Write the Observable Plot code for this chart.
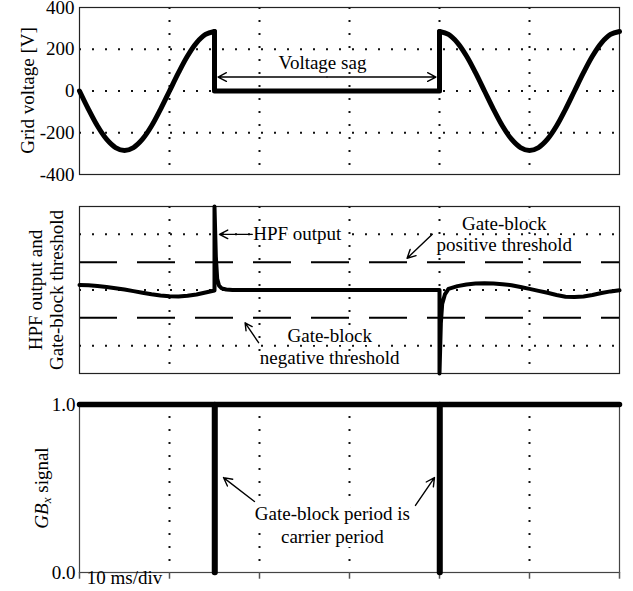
<!DOCTYPE html>
<html><head><meta charset="utf-8">
<script src="https://cdn.jsdelivr.net/npm/d3@7"></script>
<script src="https://cdn.jsdelivr.net/npm/@observablehq/plot@0.6"></script>
<style>
body{margin:0;background:#fff}
#chart svg{display:block;overflow:visible}
</style>
</head><body><div id="chart"></div>
<script>
// ---------- data (time in ms) ----------
const xTicks = [0, 10, 20, 30, 40, 50, 60];
const xGrid = [10, 20, 30, 40, 50];

// Panel 1: grid voltage [V]
const vTicks = [-400, -200, 0, 200, 400];
const vGrid = [-200, 0, 200];
const gridT1 = [0,1,2,3,4,5,6,7,8,9,10,11,12,13,14,15];
const gridV1 = [0,-88,-168,-231,-271,-285,-271,-231,-168,-88,0,88,168,231,271,285];
const sagT = [15, 15, 40, 40];
const sagV = [285, 0, 0, 285];
const gridT2 = [40,41,42,43,44,45,46,47,48,49,50,51,52,53,54,55,56,57,58,59,60];
const gridV2 = [285,271,231,168,88,0,-88,-168,-231,-271,-285,-271,-231,-168,-88,0,88,168,231,271,285];

// Panel 2: HPF output and thresholds (normalized)
const hpfGrid = [-1, 0, 1];
const thresholds = [0.5, -0.5];
const hpfT = [0,1,2,3,4,5,6,7,8,9,10,11,12,13,14,15,
  15,15.15,15.3,15.5,15.8,16.3,17,
  40,40,40.15,40.3,40.6,41,
  42,43,44,45,46,47,48,49,50,51,52,53,54,55,56,57,58,59,60];
const hpfV = [0.09,0.085,0.072,0.055,0.033,0.01,-0.02,-0.05,-0.078,-0.1,-0.112,-0.115,-0.105,-0.08,-0.045,-0.01,
  1.5,0.6,0.2,0.08,0.03,0.01,0,
  0,-1.5,-0.6,-0.25,-0.08,0.02,
  0.07,0.1,0.115,0.12,0.115,0.105,0.085,0.055,0.02,-0.015,-0.05,-0.09,-0.12,-0.125,-0.115,-0.09,-0.055,-0.025,-0.005];

// Panel 3: gate-block signal
const gbTicks = [0, 1];
const gbT = [0, 15, 15, 15.06, 15.06, 40, 40, 40.06, 40.06, 60];
const gbV = [1, 1, 0, 0, 1, 1, 0, 0, 1, 1];

// annotations
const sagLabel = [{t: 27, v: 133, text: "Voltage sag"}];
const sagArrows = [{x1: 27.5, x2: 15.4, y: 67}, {x1: 27.5, x2: 39.6, y: 67}];
const hpfLabelStart = [{t: 19.3, h: 1.0, text: "HPF output"}];
const hpfLabels = [
  {t: 47.2, h: 1.01, text: "Gate-block\npositive threshold"},
  {t: 27.8, h: -1.01, text: "Gate-block\nnegative threshold"}
];
const hpfArrows = [
  {x1: 19.2, y1: 1.0, x2: 15.55, y2: 1.0},
  {x1: 39.2, y1: 1.0, x2: 36.4, y2: 0.57},
  {x1: 19.9, y1: -0.946, x2: 18.4, y2: -0.59}
];
const gbLabel = [{t: 28.1, g: 0.289, text: "Gate-block period is\ncarrier period"}];
const gbArrows = [
  {x1: 19.44, y1: 0.423, x2: 16.0, y2: 0.565},
  {x1: 37.33, y1: 0.399, x2: 39.44, y2: 0.565}
];
const divLabel = [{t: 5, text: "10 ms/div"}];

// ---------- build ----------
const font = "Liberation Serif, Times New Roman, serif";
const style = {fontFamily: font, fontSize: "19px", background: "white", color: "black"};
const W = 633, ML = 79, MR = 14;
const dotted = {stroke: "#111", strokeWidth: 2, strokeDasharray: "2,11"};
const zip = (a, b, k) => a.map((t, i) => ({t, [k]: b[i]}));
const curveStyle = {strokeLinejoin: "round", strokeLinecap: "round", stroke: "black"};
const arrowStyle = {stroke: "black", strokeWidth: 1.4, headLength: 10, headAngle: 55};

const p1 = Plot.plot({
  width: W, height: 190, marginLeft: ML, marginRight: MR, marginTop: 7, marginBottom: 16,
  style,
  x: {domain: [0, 60], axis: null},
  y: {domain: [-400, 400], ticks: vTicks, tickSize: 0, tickPadding: 5, tickFormat: d => String(d), label: null},
  marks: [
    Plot.ruleX(xGrid, dotted),
    Plot.ruleY(vGrid, dotted),
    Plot.frame({stroke: "#222", strokeWidth: 1.2}),
    Plot.line(zip(gridT1, gridV1, "v"), {x: "t", y: "v", curve: "catmull-rom", strokeWidth: 5, ...curveStyle}),
    Plot.line(zip(sagT, sagV, "v"), {x: "t", y: "v", strokeWidth: 5, ...curveStyle}),
    Plot.line(zip(gridT2, gridV2, "v"), {x: "t", y: "v", curve: "catmull-rom", strokeWidth: 5, ...curveStyle}),
    Plot.text(sagLabel, {x: "t", y: "v", text: "text", fill: "black", stroke: "white", strokeWidth: 6}),
    Plot.arrow(sagArrows, {x1: "x1", x2: "x2", y1: "y", y2: "y", ...arrowStyle})
  ]
});

const p2 = Plot.plot({
  width: W, height: 190, marginLeft: ML, marginRight: MR, marginTop: 16, marginBottom: 7,
  style,
  x: {domain: [0, 60], axis: null},
  y: {domain: [-1.5, 1.5], axis: null},
  marks: [
    Plot.ruleX(xGrid, dotted),
    Plot.ruleY(hpfGrid, dotted),
    Plot.ruleY(thresholds, {stroke: "black", strokeWidth: 2, strokeDasharray: "38,20"}),
    Plot.frame({stroke: "#222", strokeWidth: 1.2}),
    Plot.line(zip(hpfT, hpfV, "h"), {x: "t", y: "h", strokeWidth: 4, ...curveStyle}),
    Plot.text(hpfLabelStart, {x: "t", y: "h", text: "text", textAnchor: "start", fill: "black", stroke: "white", strokeWidth: 6}),
    Plot.text(hpfLabels, {x: "t", y: "h", text: "text", lineHeight: 1.12, fill: "black", stroke: "white", strokeWidth: 6}),
    Plot.arrow(hpfArrows, {x1: "x1", y1: "y1", x2: "x2", y2: "y2", ...arrowStyle}),
    Plot.text(["HPF output and\nGate-block threshold"], {frameAnchor: "left", textAnchor: "middle", lineAnchor: "middle", dx: -34, rotate: -90, lineHeight: 1.1, fill: "black"})
  ]
});

const p3 = Plot.plot({
  width: W, height: 211, marginLeft: ML, marginRight: MR, marginTop: 24, marginBottom: 19,
  style,
  x: {domain: [0, 60], axis: null},
  y: {domain: [0, 1], ticks: gbTicks, tickSize: 0, tickPadding: 4, tickFormat: d3.format(".1f"), label: null},
  marks: [
    Plot.ruleX(xGrid, {...dotted, insetTop: 12, insetBottom: 8}),
    Plot.frame({stroke: "#444", strokeWidth: 1.2}),
    Plot.ruleX(xTicks, {x: d => d, y1: 0, y2: -0.04, stroke: "#555", strokeWidth: 1.5}),
    Plot.line(zip(gbT, gbV, "g"), {x: "t", y: "g", strokeWidth: 5.5, ...curveStyle}),
    Plot.text(gbLabel, {x: "t", y: "g", text: "text", lineHeight: 1.2, fill: "black", stroke: "white", strokeWidth: 8}),
    Plot.arrow(gbArrows, {x1: "x1", y1: "y1", x2: "x2", y2: "y2", ...arrowStyle}),
    Plot.text(divLabel, {x: "t", text: "text", frameAnchor: "bottom", dy: 11, fill: "black"})
  ]
});

// rotated label for panel 1
d3.select(p1).append("text")
  .attr("transform", `translate(34,${p1.scale("y").apply(0)}) rotate(-90)`)
  .attr("text-anchor", "middle").attr("font-family", font).attr("font-size", 19)
  .text("Grid voltage [V]");

// GBx signal label with italic + subscript
const gl = d3.select(p3).append("text")
  .attr("transform", `translate(48,${p3.scale("y").apply(0.5)}) rotate(-90)`)
  .attr("text-anchor", "middle").attr("font-family", font).attr("font-size", 19);
gl.append("tspan").attr("font-style", "italic").text("GB");
gl.append("tspan").attr("font-style", "italic").attr("font-size", 13).attr("dy", 3).text("x");
gl.append("tspan").attr("dy", -3).text(" signal");

const c = document.getElementById("chart");
c.append(p1, p2, p3);
</script>
</body></html>
